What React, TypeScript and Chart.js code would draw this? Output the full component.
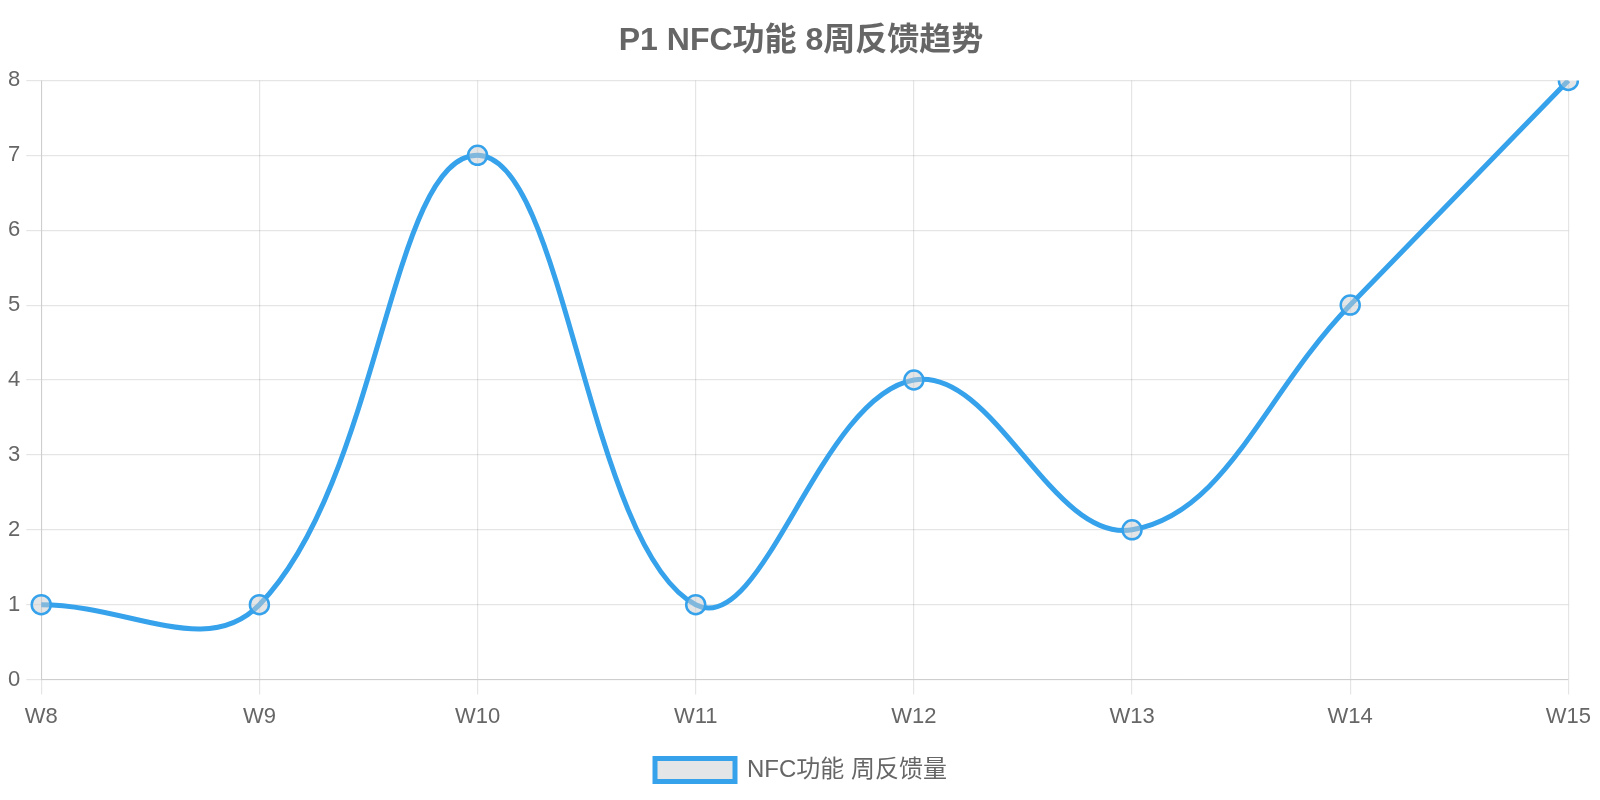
import { useEffect, useRef } from "react";
import Chart from "chart.js/auto";

const weeks = ["W8", "W9", "W10", "W11", "W12", "W13", "W14", "W15"];
const feedbackCounts = [1, 1, 7, 1, 4, 2, 5, 8];
const seriesLabel = "NFC功能 周反馈量";
const chartTitle = "P1 NFC功能 8周反馈趋势";

export default function App() {
  const canvasRef = useRef<HTMLCanvasElement | null>(null);
  const chartRef = useRef<Chart | null>(null);

  useEffect(() => {
    if (!canvasRef.current) return;
    if (chartRef.current) chartRef.current.destroy();
    Chart.defaults.font.family = "'Helvetica Neue', Helvetica, Arial, 'Liberation Sans', 'Noto Sans CJK SC', sans-serif";
    Chart.defaults.color = "#666";
    chartRef.current = new Chart(canvasRef.current, {
      type: "line",
      data: {
        labels: weeks,
        datasets: [
          {
            label: seriesLabel,
            data: feedbackCounts,
            borderColor: "#36A2EB",
            // see-through grey, the line shows through the points
            backgroundColor: "rgba(201, 203, 207, 0.5)",
            borderWidth: 5,
            tension: 0.4,
            pointRadius: 9.5,
            pointBorderWidth: 2.5,
            pointBackgroundColor: "rgba(201, 203, 207, 0.5)",
            pointBorderColor: "#36A2EB",
            fill: false,
          },
        ],
      },
      options: {
        animation: false,
        responsive: true,
        maintainAspectRatio: false,
        plugins: {
          title: {
            display: true,
            text: chartTitle,
            font: { size: 32, weight: "bold" },
            padding: { top: 14, bottom: 20 },
          },
          legend: {
            position: "bottom",
            labels: {
              boxWidth: 80,
              boxHeight: 23,
              font: { size: 24 },
              padding: 14,
            },
          },
        },
        scales: {
          x: {
            ticks: { font: { size: 22 }, padding: 9 },
            grid: { lineWidth: 1.2, tickLength: 15 },
            afterFit: (scale: any) => {
              scale.height += 5;
            },
          },
          y: {
            beginAtZero: true,
            max: 8,
            ticks: { stepSize: 1, font: { size: 22 }, padding: 6 },
            grid: { lineWidth: 1.2, tickLength: 15 },
          },
        },
      },
    });
    return () => {
      if (chartRef.current) {
        chartRef.current.destroy();
        chartRef.current = null;
      }
    };
  }, []);

  // the reference canvas runs almost edge to edge, so cancel most of the body's side margins
  return (
    <div style={{ marginLeft: -6, marginRight: -8, height: 784 }}>
      <canvas ref={canvasRef}></canvas>
    </div>
  );
}
